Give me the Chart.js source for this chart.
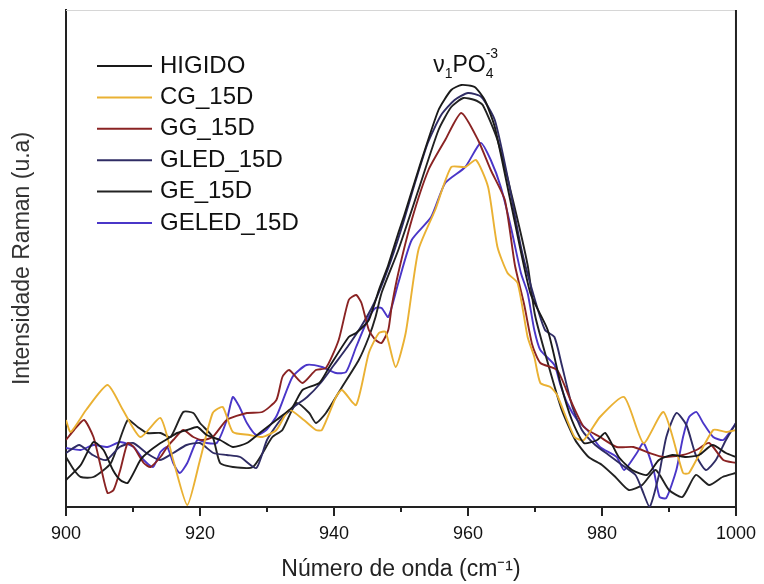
<!DOCTYPE html>
<html>
<head>
<meta charset="utf-8">
<script src="https://cdn.jsdelivr.net/npm/chart.js@4.4.1/dist/chart.umd.min.js"></script>
<style>
html, body { margin: 0; padding: 0; background: #fff; }
</style>
</head>
<body>
<canvas id="chart" width="764" height="584"></canvas>
<script>
// Espectros Raman, banda v1 PO4
const labels = ['HIGIDO', 'CG_15D', 'GG_15D', 'GLED_15D', 'GE_15D', 'GELED_15D'];
const colors = ['#1a1a1a', '#eab133', '#8a2323', '#2f2c64', '#222222', '#4a36c8'];
const xTicks = [900, 910, 920, 930, 940, 950, 960, 970, 980, 990, 1000];
const xLabels = [900, 920, 940, 960, 980, 1000];

const higidoX = [900, 902.2, 904.1, 905.6, 907, 908.1, 909.2, 911.1, 912.1, 914.1, 915.6, 916.6, 918.1, 919.6, 921, 923, 924.9, 927, 928.9, 931.4, 933.8, 935.3, 937.8, 939.3, 942.2, 943.3, 945.2, 946.7, 948.1, 949.6, 950.5, 952.6, 955.6, 957.5, 959, 961, 962.5, 964, 966.4, 969.3, 971.9, 973.8, 975.5, 977.3, 979.3, 980.5, 982.5, 984.5, 986.7, 988.5, 990.5, 992.5, 994.5, 996.5, 998.5, 1000];
const higidoY = [35, 50, 73, 65, 45, 35, 32, 55, 62, 72, 78, 82, 85, 88, 80, 75, 68, 72, 82, 95, 108, 125, 132, 148, 178, 182, 195, 225, 250, 282, 300, 345, 405, 425, 430, 428, 415, 388, 312, 222, 185, 132, 95, 72, 75, 82, 58, 45, 40, 55, 60, 58, 60, 70, 62, 58];

const cgX = [900, 900.7, 903, 906.2, 908.5, 911.1, 914.1, 916, 918.1, 920, 921.9, 923.4, 924.9, 927.4, 929.3, 931.4, 933.3, 935.5, 937.3, 938.2, 940.3, 941.2, 943.3, 945.2, 946.7, 947.7, 949.2, 950.7, 952.6, 955.1, 957.5, 959.6, 961.2, 963, 964.4, 965.9, 967.4, 968.9, 969.9, 970.8, 972.3, 973.3, 975.9, 977.3, 979.7, 983.3, 986.2, 989.2, 992.1, 993, 996.6, 998.5, 1000];
const cgY = [95, 83, 105, 130, 105, 78, 97, 55, 10, 55, 102, 108, 83, 80, 78, 85, 105, 95, 85, 85, 118, 125, 110, 162, 182, 183, 148, 182, 265, 305, 348, 348, 355, 328, 268, 242, 232, 178, 158, 132, 128, 120, 78, 75, 98, 118, 72, 103, 42, 42, 85, 83, 85];

const ggX = [900, 901.2, 902.7, 904.1, 905.2, 906.2, 907.1, 908.1, 909.2, 910.1, 911.6, 912.6, 914.1, 915.1, 916, 917.5, 919, 920.4, 921.9, 924, 927, 929.3, 931.4, 932.3, 933.3, 935.3, 937.3, 938.8, 940.7, 942.2, 943.3, 944.1, 945.2, 946.2, 947.1, 948.1, 948.6, 949.6, 951.6, 954.1, 956.6, 959, 961.5, 963.4, 965.5, 967, 968.4, 969.6, 970.8, 973.3, 975.3, 977.3, 979.7, 982.2, 984.7, 987.1, 989.2, 992.1, 994.1, 996, 998.1, 1000];
const ggY = [75, 85, 95, 78, 48, 22, 25, 45, 72, 68, 52, 48, 58, 68, 75, 85, 78, 75, 78, 95, 102, 103, 115, 138, 145, 132, 145, 147, 175, 215, 220, 212, 185, 175, 172, 185, 208, 242, 295, 345, 375, 402, 375, 345, 315, 250, 210, 170, 152, 145, 115, 88, 78, 68, 68, 62, 58, 60, 65, 72, 55, 52];

const gledX = [900, 902, 904, 906, 908, 910, 912, 914, 916, 918, 920, 922, 924, 926, 928.4, 930, 932, 934, 936, 938, 940, 942, 944, 946, 948, 950, 952, 954, 956, 958, 960, 962, 964, 966, 968, 970, 971.5, 972.9, 974, 975.5, 977, 979, 981, 983, 985, 986, 987.1, 988.5, 989.6, 991.1, 992.6, 994, 995.5, 997, 998.5, 1000];
const gledY = [62, 70, 60, 55, 68, 72, 62, 55, 62, 70, 72, 62, 60, 58, 47, 75, 95, 108, 118, 132, 150, 168, 188, 212, 245, 285, 330, 372, 400, 415, 422, 418, 395, 335, 265, 215, 185, 178, 150, 110, 85, 70, 60, 50, 40, 25, 8, 40, 78, 102, 90, 60, 45, 55, 75, 92];

const geX = [900, 901.2, 902.2, 904.1, 906.7, 909.2, 910.7, 912.1, 914.1, 915.6, 917.5, 919, 920, 921.9, 923, 924.9, 927.9, 930.8, 932.3, 934.4, 936.3, 937.3, 938.8, 941.2, 943.7, 945.2, 946.2, 947.1, 949.6, 952.6, 955.6, 957.5, 959.3, 961, 962.2, 964.4, 966.7, 968.9, 970, 972, 974, 976, 978, 980, 982, 984, 986, 988, 990, 992, 994, 996, 998, 1000];
const geY = [58, 45, 38, 38, 52, 95, 88, 82, 82, 78, 103, 102, 92, 78, 52, 48, 48, 78, 85, 112, 102, 92, 102, 128, 155, 178, 198, 222, 265, 325, 385, 408, 417, 415, 410, 375, 315, 250, 200, 150, 105, 75, 58, 50, 38, 25, 30, 45, 25, 18, 40, 30, 38, 42];

const geledX = [900, 902.2, 904.1, 906.2, 908.1, 910.1, 911.6, 913, 914.1, 915.1, 916, 917, 918.1, 919.6, 921, 922.5, 924, 924.9, 925.9, 927, 928.4, 929.9, 931.5, 933.8, 935.9, 938.2, 940.3, 941.8, 943.3, 945.2, 946.2, 947.1, 948.1, 949.6, 951.6, 954.5, 956.6, 959.6, 961.9, 963.4, 964.9, 966.4, 967.9, 968.9, 969.9, 970.8, 972.9, 973.8, 974.8, 976.3, 977.8, 979.7, 982.2, 983.3, 985.2, 986.2, 987.7, 988.6, 989.6, 991.1, 992.1, 993, 994.1, 995.1, 996.6, 998.1, 999.6, 1000];
const geledY = [67, 65, 70, 68, 73, 68, 55, 48, 63, 68, 52, 42, 52, 75, 72, 72, 95, 118, 108, 92, 80, 85, 100, 138, 150, 148, 142, 143, 168, 198, 207, 207, 198, 232, 275, 298, 332, 348, 372, 355, 328, 288, 242, 222, 185, 165, 150, 130, 112, 95, 85, 68, 58, 45, 62, 72, 45, 18, 17, 45, 78, 98, 103, 92, 78, 75, 88, 92];

const seriesX = [higidoX, cgX, ggX, gledX, geX, geledX];
const seriesY = [higidoY, cgY, ggY, gledY, geY, geledY];

function toPoints(xs, ys) {
    return xs.map((x, i) => ({ x: x, y: ys[i] }));
}

const datasets = labels.map((label, i) => ({
    label: label,
    data: toPoints(seriesX[i], seriesY[i]),
    borderColor: colors[i],
    borderWidth: 1.9,
    pointRadius: 0,
    tension: 0.2,
    fill: false
}));

// Marco, marcas del eje, leyenda y anotacion
const extras = {
    id: 'extras',
    afterDraw(chart) {
        const { ctx, chartArea: a, scales: { x, y } } = chart;
        ctx.save();
        ctx.strokeStyle = '#d6d6d6';
        ctx.lineWidth = 1;
        ctx.beginPath();
        ctx.moveTo(a.left, a.top + 0.5);
        ctx.lineTo(a.right, a.top + 0.5);
        ctx.stroke();

        ctx.strokeStyle = '#222';
        ctx.lineWidth = 2;
        ctx.beginPath();
        ctx.moveTo(a.right, a.top);
        ctx.lineTo(a.right, a.bottom + 1);
        ctx.stroke();

        xTicks.forEach(v => {
            const px = x.getPixelForValue(v);
            const len = v % 20 === 0 ? 9 : 5;
            ctx.beginPath();
            ctx.moveTo(px, a.bottom);
            ctx.lineTo(px, a.bottom + len);
            ctx.stroke();
        });

        // leyenda
        ctx.font = '24px "Liberation Sans", Arial, sans-serif';
        ctx.textBaseline = 'middle';
        labels.forEach((label, i) => {
            const ly = 66 + i * 31.4;
            ctx.strokeStyle = colors[i];
            ctx.lineWidth = 2;
            ctx.beginPath();
            ctx.moveTo(97, ly);
            ctx.lineTo(152, ly);
            ctx.stroke();
            ctx.fillStyle = '#111';
            ctx.fillText(label, 160, ly);
        });

        // v1 PO4 -3
        let ax = x.getPixelForValue(954.8);
        const ay = y.getPixelForValue(443);
        ctx.textBaseline = 'alphabetic';
        ctx.fillStyle = '#111';
        const big = '23px "Liberation Sans", Arial, sans-serif';
        const small = '14px "Liberation Sans", Arial, sans-serif';
        ctx.font = big;
        ctx.fillText('\u03bd', ax, ay);
        ax += ctx.measureText('\u03bd').width;
        ctx.font = small;
        ctx.fillText('1', ax, ay + 6);
        ax += ctx.measureText('1').width;
        ctx.font = big;
        ctx.fillText('PO', ax, ay);
        ax += ctx.measureText('PO').width;
        ctx.font = small;
        ctx.fillText('4', ax, ay + 6);
        ctx.fillText('-3', ax, ay - 14);
        ctx.restore();
    }
};

new Chart(document.getElementById('chart'), {
    type: 'line',
    data: { datasets: datasets },
    plugins: [extras],
    options: {
        responsive: false,
        animation: false,
        layout: { padding: { top: 10, right: 23, left: 0, bottom: 0 } },
        plugins: {
            legend: { display: false },
            tooltip: { enabled: false }
        },
        scales: {
            x: {
                type: 'linear',
                min: 900,
                max: 1000,
                afterFit: s => { s.height = 77; },
                afterBuildTicks: s => { s.ticks = xLabels.map(v => ({ value: v })); },
                grid: { display: false },
                border: { display: true, color: '#222', width: 2 },
                ticks: {
                    padding: 8,
                    color: '#111',
                    font: { family: '"Liberation Sans", Arial, sans-serif', size: 18 },
                    maxRotation: 0,
                    callback: v => String(v)
                },
                title: {
                    display: true,
                    text: 'Número de onda (cm\u207b\u00b9)',
                    color: '#222',
                    padding: { top: 0, bottom: 1 },
                    font: { family: '"Liberation Sans", Arial, sans-serif', size: 23 }
                }
            },
            y: {
                min: 8,
                max: 505,
                afterFit: s => { s.width = 66; },
                grid: { display: false },
                border: { display: true, color: '#222', width: 2 },
                ticks: { display: false },
                title: {
                    display: true,
                    text: 'Intensidade Raman (u.a)',
                    color: '#333',
                    padding: { top: 9, bottom: 0 },
                    font: { family: '"Liberation Sans", Arial, sans-serif', size: 23 }
                }
            }
        }
    }
});
</script>
</body>
</html>
